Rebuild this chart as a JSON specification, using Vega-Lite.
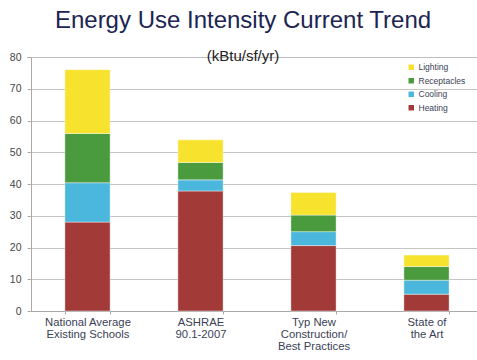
{
  "$schema": "https://vega.github.io/schema/vega-lite/v6.json",
  "width": 452,
  "height": 254,
  "autosize": "none",
  "padding": {"left": 31, "top": 57, "right": 0, "bottom": 49},
  "background": "white",
  "title": {
    "text": "Energy Use Intensity Current Trend",
    "subtitle": "(kBtu/sf/yr)",
    "anchor": "middle",
    "frame": "group",
    "dx": -14,
    "font": "Liberation Sans",
    "fontSize": 24,
    "fontWeight": "normal",
    "color": "#1c2452",
    "subtitleFont": "Liberation Sans",
    "subtitleFontSize": 15,
    "subtitleColor": "#222222",
    "subtitlePadding": 16,
    "offset": -12
  },
  "data": {
    "values": [
      {"site": "National Average|Existing Schools", "use": "Heating", "k": 1, "v": 28},
      {"site": "National Average|Existing Schools", "use": "Cooling", "k": 2, "v": 12.4},
      {"site": "National Average|Existing Schools", "use": "Receptacles", "k": 3, "v": 15.5},
      {"site": "National Average|Existing Schools", "use": "Lighting", "k": 4, "v": 20.1},
      {"site": "ASHRAE|90.1-2007", "use": "Heating", "k": 1, "v": 37.8},
      {"site": "ASHRAE|90.1-2007", "use": "Cooling", "k": 2, "v": 3.5},
      {"site": "ASHRAE|90.1-2007", "use": "Receptacles", "k": 3, "v": 5.5},
      {"site": "ASHRAE|90.1-2007", "use": "Lighting", "k": 4, "v": 7.1},
      {"site": "Typ New|Construction/|Best Practices", "use": "Heating", "k": 1, "v": 20.6},
      {"site": "Typ New|Construction/|Best Practices", "use": "Cooling", "k": 2, "v": 4.4},
      {"site": "Typ New|Construction/|Best Practices", "use": "Receptacles", "k": 3, "v": 5.2},
      {"site": "Typ New|Construction/|Best Practices", "use": "Lighting", "k": 4, "v": 7.1},
      {"site": "State of|the Art", "use": "Heating", "k": 1, "v": 5.3},
      {"site": "State of|the Art", "use": "Cooling", "k": 2, "v": 4.4},
      {"site": "State of|the Art", "use": "Receptacles", "k": 3, "v": 4.3},
      {"site": "State of|the Art", "use": "Lighting", "k": 4, "v": 3.6}
    ]
  },
  "mark": {"type": "bar", "stroke": "white", "strokeWidth": 0.8, "strokeOpacity": 0.5},
  "encoding": {
    "x": {
      "field": "site",
      "type": "nominal",
      "sort": null,
      "scale": {"paddingInner": 0.6, "paddingOuter": 0.3},
      "axis": {
        "title": null,
        "labelAngle": 0,
        "labelExpr": "datum.value ? split(datum.value, '|') : ''",
        "labelFont": "Liberation Sans",
        "labelFontSize": 11.3,
        "labelColor": "#3a3f55",
        "labelLineHeight": 12,
        "labelPadding": 2,
        "tickBand": "extent",
        "tickSize": 3,
        "tickColor": "#aaaaaa",
        "domainColor": "#aaaaaa"
      }
    },
    "y": {
      "field": "v",
      "type": "quantitative",
      "stack": "zero",
      "scale": {"domain": [0, 80]},
      "axis": {
        "title": null,
        "values": [0, 10, 20, 30, 40, 50, 60, 70, 80],
        "labelFont": "Liberation Sans",
        "labelFontSize": 10.5,
        "labelColor": "#444444",
        "labelPadding": 6,
        "tickSize": 4,
        "tickColor": "#aaaaaa",
        "domainColor": "#aaaaaa",
        "gridColor": "#b5b5b5",
        "gridWidth": 0.8
      }
    },
    "color": {
      "field": "use",
      "type": "nominal",
      "scale": {
        "domain": ["Lighting", "Receptacles", "Cooling", "Heating"],
        "range": ["#f7e22e", "#4a9a3e", "#4cb7dd", "#a23a37"]
      },
      "legend": {
        "title": null,
        "orient": "none",
        "legendX": 376,
        "legendY": 6,
        "symbolType": "square",
        "symbolSize": 30,
        "symbolStrokeWidth": 0,
        "labelFont": "Liberation Sans",
        "labelFontSize": 8.5,
        "labelColor": "#3a3f55",
        "rowPadding": 4.5,
        "labelOffset": 3
      }
    },
    "order": {"field": "k", "type": "quantitative"}
  }
}
